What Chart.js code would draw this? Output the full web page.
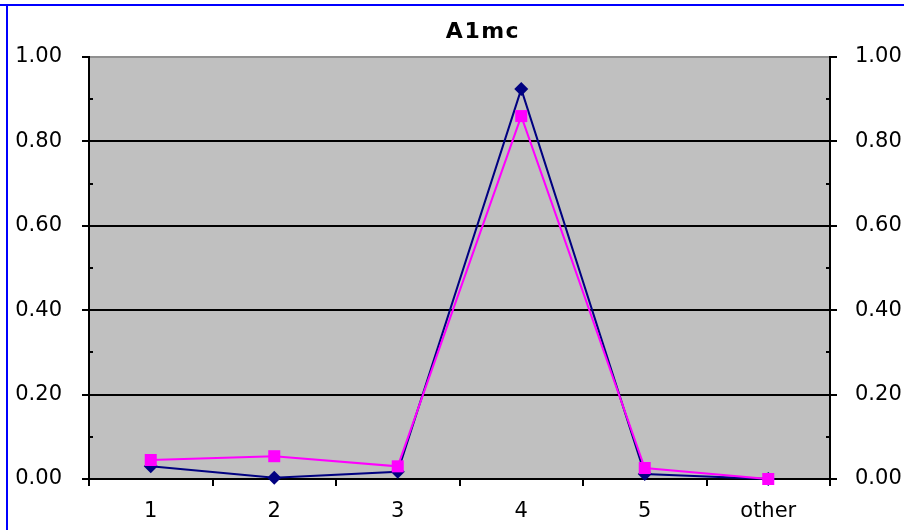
<!DOCTYPE html>
<html>
<head>
<meta charset="utf-8">
<script src="https://cdn.jsdelivr.net/npm/chart.js@4/dist/chart.umd.min.js"></script>
<style>
  html, body { margin: 0; padding: 0; background: #fff; }
</style>
</head>
<body>
<canvas id="chart" width="904" height="530"></canvas>
<script>
const categories = ['1', '2', '3', '4', '5', 'other']
const navySeries = [0.03, 0.003, 0.017, 0.924, 0.012, 0.0]
const pinkSeries = [0.045, 0.054, 0.03, 0.86, 0.026, 0.0]
const minorTicks = [0.1, 0.3, 0.5, 0.7, 0.9]
const chartTitle = 'A1mc'

const font = { family: 'DejaVu Sans', size: 21 }

// white page, blue window edge, grey plot area
const backdrop = {
  id: 'backdrop',
  beforeDraw(chart) {
    const { ctx, chartArea: a } = chart
    ctx.save()
    ctx.fillStyle = '#fff'
    ctx.fillRect(0, 0, chart.width, chart.height)
    ctx.fillStyle = '#0000ff'
    ctx.fillRect(0, 4, chart.width, 2)
    ctx.fillRect(6, 4, 2, chart.height)
    ctx.fillStyle = '#c0c0c0'
    ctx.fillRect(a.left, a.top, a.right - a.left, a.bottom - a.top)
    ctx.restore()
  },
  beforeDatasetsDraw(chart) {
    const { ctx, scales } = chart
    ctx.save()
    ctx.strokeStyle = '#000'
    ctx.lineWidth = 2
    minorTicks.forEach(v => {
      const y = Math.round(scales.y.getPixelForValue(v))
      ctx.beginPath()
      ctx.moveTo(scales.y.right, y)
      ctx.lineTo(scales.y.right + 4, y)
      ctx.moveTo(scales.y2.left, y)
      ctx.lineTo(scales.y2.left - 4, y)
      ctx.stroke()
    })
    ctx.restore()
  },
  afterDraw(chart) {
    const { ctx } = chart
    ctx.save()
    ctx.font = 'bold 22px "DejaVu Sans"'
    ctx.letterSpacing = '1.5px'
    ctx.fillStyle = '#000'
    ctx.textAlign = 'center'
    ctx.textBaseline = 'alphabetic'
    ctx.fillText(chartTitle, 483, 38)
    ctx.restore()
  }
}

new Chart(document.getElementById('chart'), {
  type: 'line',
  data: {
    labels: categories,
    datasets: [{
      label: 'series 1',
      data: navySeries,
      order: 1,
      clip: false,
      borderColor: '#000080',
      backgroundColor: '#000080',
      borderWidth: 2,
      tension: 0,
      pointStyle: 'rectRot',
      pointRadius: 7,
      pointBorderWidth: 0
    }, {
      label: 'series 2',
      data: pinkSeries,
      order: 0,
      clip: false,
      borderColor: '#ff00ff',
      backgroundColor: '#ff00ff',
      borderWidth: 2,
      tension: 0,
      pointStyle: 'rect',
      pointRadius: 8.5,
      pointBorderWidth: 0
    }]
  },
  options: {
    responsive: false,
    animation: false,
    layout: {
      padding: { top: 57, left: 15, right: 0, bottom: 0 }
    },
    plugins: {
      legend: { display: false },
      title: { display: false },
      tooltip: { enabled: false }
    },
    scales: {
      x: {
        offset: true,
        grid: {
          offset: true,
          drawOnChartArea: false,
          color: '#000',
          lineWidth: 2,
          tickLength: 7
        },
        border: { color: '#000', width: 2 },
        ticks: { color: '#000', font: font, padding: 13 },
        afterFit(s) { s.height = 51 }
      },
      y: {
        position: 'left',
        min: 0,
        max: 1,
        grid: {
          color: ctx => ctx.tick && ctx.tick.value === 1 ? '#909090' : '#000',
          tickColor: '#000',
          lineWidth: 2,
          tickLength: 7
        },
        border: { color: '#000', width: 2 },
        ticks: {
          stepSize: 0.2,
          color: '#000',
          font: font,
          padding: 20,
          callback: v => v.toFixed(2)
        },
        afterFit(s) { s.width = 74 }
      },
      y2: {
        position: 'right',
        min: 0,
        max: 1,
        grid: {
          drawOnChartArea: false,
          color: '#000',
          lineWidth: 2,
          tickLength: 7
        },
        border: { color: '#000', width: 2 },
        ticks: {
          stepSize: 0.2,
          color: '#000',
          font: font,
          padding: 18,
          callback: v => v.toFixed(2)
        },
        afterFit(s) { s.width = 74 }
      }
    }
  },
  plugins: [backdrop]
})
</script>
</body>
</html>
